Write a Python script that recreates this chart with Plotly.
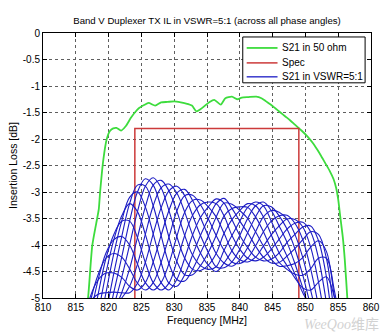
import plotly.graph_objects as go

# ---- S21 of the duplexer TX path into a matched 50 ohm load ----
green_freq_mhz = [816.3, 816.9, 817.5, 818.1, 818.5, 818.7, 819.2, 819.7, 820.2, 820.7,
                  821.2, 821.9, 822.6, 823.4, 824.0, 824.6, 825.4, 826.1, 827.1, 828.0,
                  829.0, 830.0, 831.0, 831.7, 832.7, 833.4, 834.0, 834.7, 835.4, 836.1,
                  837.1, 837.8, 838.8, 839.6, 840.3, 841.3, 842.5, 843.3, 844.0, 844.7,
                  845.4, 846.2, 846.9, 847.7, 848.4, 849.4, 850.3, 851.1, 851.8, 852.4,
                  853.0, 853.7, 854.3, 854.7, 855.0, 855.3, 855.7, 856.0, 856.4, 856.7]
green_il_db = [-5.60, -4.96, -4.02, -3.60, -3.33, -3.01, -2.39, -2.01, -1.85, -1.80,
               -1.79, -1.84, -1.76, -1.60, -1.50, -1.42, -1.36, -1.32, -1.37, -1.31,
               -1.30, -1.29, -1.31, -1.33, -1.37, -1.48, -1.44, -1.37, -1.30, -1.26,
               -1.35, -1.23, -1.20, -1.25, -1.22, -1.21, -1.20, -1.23, -1.29, -1.35,
               -1.42, -1.50, -1.57, -1.65, -1.73, -1.84, -1.95, -2.07, -2.20, -2.32,
               -2.45, -2.60, -2.76, -2.93, -3.14, -3.45, -3.85, -4.27, -5.02, -5.60]

# ---- insertion-loss spec mask (824-849 MHz, -1.8 dB) ----
spec_freq_mhz = [824, 824, 849, 849]
spec_il_db = [-5.0, -1.8, -1.8, -5.0]

# ---- S21 with a 5:1 VSWR load swept over the load phase ----
vswr_freq_mhz = [816.0, 817.2, 818.4, 819.6, 820.8, 822.0, 823.2, 824.4, 825.6, 826.8,
                 828.0, 829.2, 830.4, 831.6, 832.8, 834.0, 835.2, 836.4, 837.6, 838.8,
                 840.0, 841.2, 842.4, 843.6, 844.8, 846.0, 847.2, 848.4, 849.6, 850.8,
                 852.0, 853.2, 854.4, 855.6, 856.8]

vswr_il_db = [
    # load phase 0 deg
    [-5.60, -5.08, -4.93, -4.90, -4.89, -4.90, -4.90, -4.72, -4.33, -3.79, -3.30, -2.98,
     -2.89, -3.07, -3.44, -3.82, -4.14, -4.41, -4.43, -4.32, -4.08, -3.77, -3.47, -3.26,
     -3.28, -3.45, -3.70, -4.07, -4.57, -5.14, -5.60, -5.92, -6.16, -6.35, -6.63],
    # 30 deg
    [-5.69, -5.36, -5.31, -5.28, -5.15, -5.00, -4.78, -4.36, -3.80, -3.26, -2.92, -2.85,
     -3.02, -3.38, -3.81, -4.15, -4.38, -4.50, -4.34, -4.11, -3.82, -3.50, -3.26, -3.19,
     -3.35, -3.64, -3.95, -4.35, -4.81, -5.25, -5.48, -5.57, -5.73, -5.98, -6.39],
    # 60 deg
    [-5.95, -5.74, -5.68, -5.55, -5.25, -4.90, -4.45, -3.86, -3.28, -2.87, -2.78, -2.98,
     -3.36, -3.82, -4.19, -4.39, -4.46, -4.41, -4.10, -3.82, -3.55, -3.29, -3.19, -3.26,
     -3.55, -3.89, -4.21, -4.55, -4.90, -5.14, -5.15, -5.09, -5.29, -5.70, -6.30],
    # 90 deg
    [-6.30, -6.12, -5.95, -5.65, -5.15, -4.61, -4.00, -3.37, -2.89, -2.73, -2.92, -3.35,
     -3.84, -4.25, -4.46, -4.48, -4.38, -4.16, -3.78, -3.52, -3.35, -3.22, -3.26, -3.47,
     -3.81, -4.15, -4.39, -4.62, -4.81, -4.85, -4.70, -4.60, -4.97, -5.60, -6.39],
    # 120 deg
    [-6.65, -6.40, -6.05, -5.55, -4.89, -4.23, -3.55, -3.00, -2.75, -2.87, -3.30, -3.85,
     -4.31, -4.56, -4.56, -4.39, -4.14, -3.82, -3.45, -3.31, -3.28, -3.29, -3.47, -3.75,
     -4.08, -4.33, -4.46, -4.55, -4.57, -4.45, -4.25, -4.25, -4.85, -5.70, -6.63],
    # 150 deg
    [-6.91, -6.50, -5.95, -5.28, -4.53, -3.84, -3.22, -2.87, -2.89, -3.26, -3.82, -4.35,
     -4.65, -4.68, -4.46, -4.15, -3.83, -3.47, -3.21, -3.23, -3.35, -3.50, -3.75, -4.02,
     -4.27, -4.40, -4.39, -4.35, -4.24, -4.04, -3.92, -4.12, -4.97, -5.98, -6.95],
    # 180 deg
    [-7.00, -6.40, -5.68, -4.90, -4.16, -3.55, -3.10, -3.00, -3.28, -3.79, -4.33, -4.72,
     -4.78, -4.56, -4.19, -3.82, -3.51, -3.22, -3.12, -3.31, -3.55, -3.77, -4.02, -4.23,
     -4.34, -4.33, -4.21, -4.07, -3.90, -3.75, -3.80, -4.25, -5.29, -6.35, -7.28],
    # 210 deg
    [-6.91, -6.12, -5.31, -4.53, -3.90, -3.45, -3.22, -3.37, -3.80, -4.32, -4.71, -4.85,
     -4.65, -4.25, -3.81, -3.48, -3.28, -3.13, -3.21, -3.52, -3.82, -4.05, -4.23, -4.30,
     -4.27, -4.15, -3.95, -3.80, -3.66, -3.64, -3.92, -4.60, -5.73, -6.73, -7.51],
    # 240 deg
    [-6.65, -5.74, -4.93, -4.25, -3.80, -3.55, -3.55, -3.86, -4.33, -4.71, -4.85, -4.72,
     -4.31, -3.82, -3.44, -3.24, -3.19, -3.22, -3.45, -3.82, -4.08, -4.25, -4.30, -4.23,
     -4.08, -3.89, -3.70, -3.59, -3.57, -3.75, -4.25, -5.09, -6.16, -7.00, -7.60],
    # 270 deg
    [-6.30, -5.36, -4.66, -4.15, -3.90, -3.84, -4.00, -4.36, -4.71, -4.85, -4.71, -4.35,
     -3.84, -3.38, -3.16, -3.15, -3.28, -3.47, -3.78, -4.11, -4.28, -4.32, -4.23, -4.02,
     -3.81, -3.64, -3.51, -3.52, -3.66, -4.04, -4.70, -5.57, -6.48, -7.10, -7.51],
    # 300 deg
    [-5.95, -5.08, -4.56, -4.25, -4.16, -4.23, -4.45, -4.72, -4.85, -4.71, -4.33, -3.85,
     -3.36, -3.07, -3.06, -3.24, -3.51, -3.82, -4.10, -4.32, -4.35, -4.25, -4.02, -3.75,
     -3.55, -3.45, -3.44, -3.59, -3.90, -4.45, -5.15, -5.92, -6.60, -7.00, -7.28],
    # 330 deg
    [-5.69, -4.98, -4.66, -4.53, -4.53, -4.61, -4.78, -4.85, -4.71, -4.32, -3.82, -3.35,
     -3.02, -2.95, -3.16, -3.48, -3.83, -4.16, -4.34, -4.40, -4.28, -4.05, -3.75, -3.47,
     -3.35, -3.38, -3.51, -3.80, -4.24, -4.85, -5.48, -6.05, -6.48, -6.73, -6.95],
]

# ---- axis ticks ----
x_tick_vals = [810, 815, 820, 825, 830, 835, 840, 845, 850, 855, 860]
x_tick_text = ["810", "815", "820", "825", "830", "835", "840", "845", "850", "855", "860"]
y_tick_vals = [0, -0.5, -1, -1.5, -2, -2.5, -3, -3.5, -4, -4.5, -5]
y_tick_text = ["0", "-0.5", "-1", "-1.5", "-2", "-2.5", "-3", "-3.5", "-4", "-4.5", "-5"]

# ---- legend entries ----
legend_labels = ["S21 in 50 ohm", "Spec", "S21 in VSWR=5:1"]

GREEN = "#3ddc3d"
RED = "#cc3a3a"
BLUE = "#1c1cc4"
legend_colors = [GREEN, RED, BLUE]
legend_widths = [1.8, 1.5, 1.3]
FONT = "Liberation Sans, Arial, Helvetica, sans-serif"

fig = go.Figure()

fig.add_trace(go.Scatter(
    x=green_freq_mhz, y=green_il_db, mode="lines", name=legend_labels[0],
    line=dict(color=GREEN, width=1.8, shape="spline", smoothing=0.6),
))
fig.add_trace(go.Scatter(
    x=spec_freq_mhz, y=spec_il_db, mode="lines", name=legend_labels[1],
    line=dict(color=RED, width=1.5),
))
for curve in vswr_il_db:
    fig.add_trace(go.Scatter(
        x=vswr_freq_mhz, y=curve, mode="lines", name=legend_labels[2],
        line=dict(color=BLUE, width=1.1, shape="spline", smoothing=1.0),
    ))

axis_common = dict(
    showline=True, linecolor="black", linewidth=1, mirror="ticks",
    ticks="inside", ticklen=4, tickcolor="black",
    showgrid=True, gridcolor="#5f5f5f", gridwidth=1, griddash="dot",
    zeroline=False, tickfont=dict(size=10, color="black", family=FONT),
)

fig.update_xaxes(
    range=[810, 860], tickvals=x_tick_vals, ticktext=x_tick_text,
    title=dict(text="Frequency [MHz]", font=dict(size=10.5, family=FONT), standoff=4),
    **axis_common,
)
fig.update_yaxes(
    range=[-5, 0], tickvals=y_tick_vals, ticktext=y_tick_text,
    title=dict(text="Insertion Loss [dB]", font=dict(size=10.5, family=FONT), standoff=3),
    **axis_common,
)

# Compact boxed legend in the upper-right corner of the axes (paper coordinates)
box_x0, box_x1, box_y0, box_y1 = 0.609, 0.982, 0.812, 0.985
row_y = [0.9436, 0.8872, 0.8346]
key_x0, key_x1, text_x = 0.621, 0.715, 0.724

shapes = [dict(type="rect", xref="paper", yref="paper",
               x0=box_x0, x1=box_x1, y0=box_y0, y1=box_y1,
               line=dict(color="black", width=1), fillcolor="white", layer="above")]
annotations = []
for label, color, width, yy in zip(legend_labels, legend_colors, legend_widths, row_y):
    shapes.append(dict(type="line", xref="paper", yref="paper",
                       x0=key_x0, x1=key_x1, y0=yy, y1=yy,
                       line=dict(color=color, width=width), layer="above"))
    annotations.append(dict(text=label, xref="paper", yref="paper", x=text_x, y=yy,
                            xanchor="left", yanchor="middle", showarrow=False,
                            font=dict(size=10, family=FONT, color="black")))

annotations.append(dict(
    text="<i>WeeQoo</i>维库", xref="paper", yref="paper",
    x=1.03, y=-0.10, xanchor="right", yanchor="middle", showarrow=False,
    font=dict(size=14, color="#d2d2d2", family="Liberation Serif, Noto Sans CJK SC"),
))

fig.update_layout(
    width=392, height=336,
    margin=dict(l=39, r=13, t=33, b=37),
    paper_bgcolor="white", plot_bgcolor="white",
    font=dict(family=FONT, size=10, color="black"),
    showlegend=False,
    title=dict(
        text="Band V Duplexer TX IL in VSWR=5:1 (across all phase angles)",
        x=0.5, xref="paper", xanchor="center",
        y=1 - 21 / 336, yref="container", yanchor="middle",
        font=dict(size=9.6, family=FONT, color="black"),
    ),
    shapes=shapes,
    annotations=annotations,
)

fig.write_html("out.html")
